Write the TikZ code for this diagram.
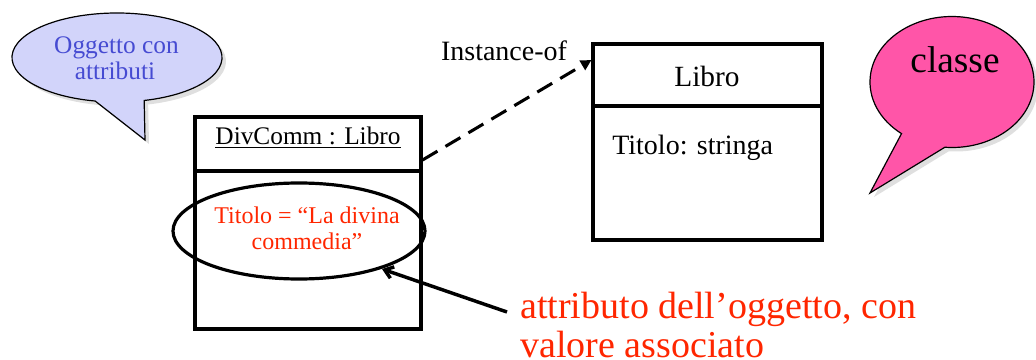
\documentclass[tikz,border=0pt]{standalone}
\usepackage{fontspec}
\setmainfont{Liberation Serif}
\usetikzlibrary{arrows.meta,shadows,shapes.geometric}
\definecolor{bubblue}{RGB}{210,212,250}
\definecolor{txtblue}{RGB}{70,75,210}
\definecolor{bubpink}{RGB}{255,85,168}
\definecolor{attrred}{RGB}{255,38,0}
\tikzset{
  umlbox/.style={draw, line width=2.3pt, inner sep=0pt},
  bubble/.style={draw, line width=0.9pt,
     drop shadow={shadow xshift=3pt, shadow yshift=-3pt, opacity=0.25}},
  txt/.style={inner sep=0pt, anchor=base},
  fs/.style={font=\fontsize{#1}{#1}\selectfont}
}
\begin{document}
\begin{tikzpicture}[x=0.75pt, y=-0.75pt]
\useasboundingbox (0,0) rectangle (1036,360);

% left bubble
\path[bubble, fill=bubblue]
  (117,57.5) ++(75:105 and 44.5) coordinate (lb0)
  arc[start angle=75, end angle=-258, x radius=105, y radius=44.5]
  -- (145,140) coordinate (lbtip) -- cycle;
\node[txt, fs=19, text=txtblue] (og1) at (116.5,54) {Oggetto con};
\node[txt, fs=19, text=txtblue] (og2) at (115,80) {attributi};

% right bubble
\path[bubble, fill=bubpink]
  (952,82) ++(95:82 and 65.5) coordinate (rb0)
  arc[start angle=95, end angle=-232, x radius=82, y radius=65.5]
  -- (870,193) coordinate (rbtip) -- cycle;
\node[txt, fs=28] (cl) at (955,73) {classe};

% object box
\node[umlbox, minimum width=169.5pt, minimum height=159pt] (obj) at (308,223) {};
\coordinate (objdiv) at (0,171);
\draw[line width=2.3pt] (obj.west |- objdiv) -- (obj.east |- objdiv);
\node[txt, fs=19] (objname) at (308,145) {\underline{DivComm : Libro}};

% attribute ellipse
\node[draw, line width=2.4pt, ellipse, minimum width=189pt, minimum height=72pt, inner sep=0pt] (att) at (299,231) {};
\node[txt, fs=18, text=attrred] (a1) at (307,223) {Titolo = “La divina};
\node[txt, fs=18, text=attrred] (a2) at (307,249) {commedia”};

% class box
\node[umlbox, minimum width=171.75pt, minimum height=147pt] (cls) at (707.5,142) {};
\coordinate (clsdiv) at (0,106);
\draw[line width=2.3pt] (cls.west |- clsdiv) -- (cls.east |- clsdiv);
\node[txt, fs=22] (clsname) at (707,87) {Libro};
\node[txt, fs=21, anchor=base west] (clsattr) at (612,154) {Titolo: stringa};

% instance-of
\coordinate (ioS) at (421,160);
\coordinate (ioE) at (592,60);
\draw[line width=2.3pt, dash pattern=on 13pt off 7pt, -{Triangle[length=8pt,width=8pt]}]
  (obj.east |- ioS) -- (cls.west |- ioE);
\node[txt, fs=21] (io) at (504,61) {Instance-of};

% attribute label
\node[txt, anchor=base west, text=attrred, fs=28.5] (lbl1) at (520,318) {attributo dell’oggetto, con};
\node[txt, anchor=base west, text=attrred, fs=28.5] (lbl2) at (520,357) {valore associato};
\coordinate (arS) at (507,312);
\coordinate (arE) at (382,269);
\draw[line width=2.6pt, -{Straight Barb[length=6pt,width=9pt]}] (arS) -- (arE);
\end{tikzpicture}
\end{document}
